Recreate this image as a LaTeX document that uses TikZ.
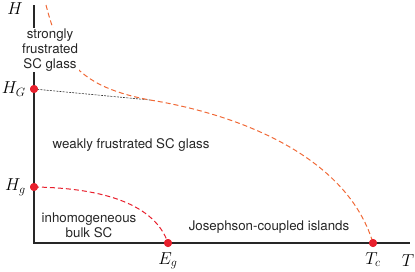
\documentclass[tikz,border=0pt]{standalone}
\usepackage{fontspec}
\setsansfont{TeX Gyre Heros}
\usetikzlibrary{positioning}
\definecolor{lineorange}{RGB}{240,105,55}
\definecolor{dotred}{RGB}{232,32,45}

\begin{document}
\begin{tikzpicture}[x=1pt, y=-1pt,
  node distance=2pt,
  axis/.style={line width=1.1pt, black!85},
  dot/.style={circle, fill=dotred, inner sep=0pt, minimum size=8pt},
  region/.style={font=\sffamily\fontsize{13.3}{15}\selectfont, align=center,
                 text=black!85, inner sep=1pt},
  sym/.style={font=\fontsize{16.5}{18}\selectfont, inner sep=0pt},
  upper/.style={line width=1pt, lineorange, dash pattern=on 5pt off 3pt},
  lower/.style={line width=1pt, dotred, dash pattern=on 5pt off 3pt},
  guide/.style={line width=0.6pt, black!80, dash pattern=on 2pt off 1.2pt}
]
\useasboundingbox (0,0) rectangle (415,271);

% axes and marked points
\coordinate (O) at (34,243);
\coordinate (top) at (34,5);
\coordinate (right) at (410,243);
\coordinate (start) at (46,5);
\node[dot] (HG) at (34,89) {};
\node[dot] (Hg) at (34,187) {};
\node[dot] (Eg) at (168,243) {};
\node[dot] (Tc) at (373,243) {};
\coordinate (touch) at (150,100);

% phase boundaries
\draw[guide] (HG.center) -- (touch);
\draw[upper] (start) .. controls (60,60) and (80,87) .. (touch)
  .. controls (225,112) and (345,150) .. (Tc.center);
\draw[lower] (Hg.center) .. controls (105,188) and (155,205) .. (Eg.center);

\draw[axis] (top) -- (O) -- (right);

% regions
\node[region, fill=white] (strong) at (50,50) {strongly\\frustrated\\SC glass};
\node[region] (weak) at (131,145) {weakly frustrated SC glass};
\node[region] (bulk) at (89,225) {inhomogeneous\\bulk SC};
\node[region] (islands) at (269,227) {Josephson-coupled islands};

% redraw the points on top
\node[dot] at (HG) {};
\node[dot] at (Hg) {};
\node[dot] at (Eg) {};
\node[dot] at (Tc) {};

% labels
\node[sym] (Hlab) at (15,9) {$H$};
\node[sym] (Tlab) at (408,261) {$T$};
\node[sym, left=4pt of HG] (HGlab) {$H_G$};
\node[sym, left=4pt of Hg] (Hglab) {$H_g$};
\node[sym, below=5pt of Eg] (Eglab) {$E_g$};
\node[sym, below=5pt of Tc] (Tclab) {$T_c$};
\end{tikzpicture}
\end{document}
